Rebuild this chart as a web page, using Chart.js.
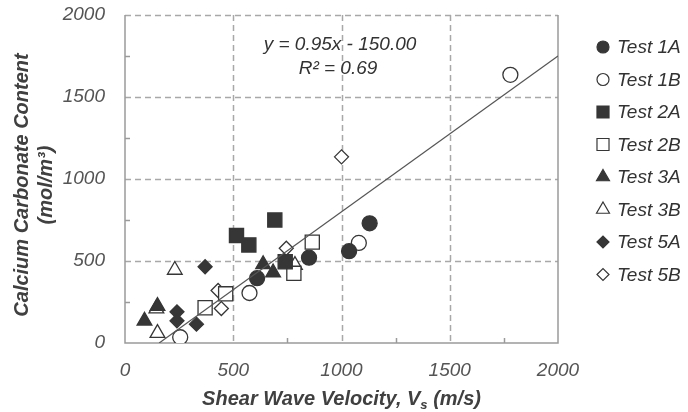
<!DOCTYPE html>
<html>
<head>
<meta charset="utf-8">
<script src="https://cdn.jsdelivr.net/npm/chart.js"></script>
<style>
  body { margin: 0; background: #fff; }
</style>
</head>
<body>
<canvas id="chart" width="688" height="412"></canvas>
<script>
// valores: Vs (m/s) y contenido de CaCO3 (mol/m3)
const seriesNames = ["Test 1A", "Test 1B", "Test 2A", "Test 2B", "Test 3A", "Test 3B", "Test 5A", "Test 5B"];

const vs1A = [610, 850, 1035, 1130];
const caco3_1A = [395, 520, 560, 730];
const vs1B = [255, 575, 1080, 1780];
const caco3_1B = [35, 305, 610, 1635];
const vs2A = [515, 572, 692, 740];
const caco3_2A = [655, 598, 750, 495];
const vs2B = [370, 465, 780, 865];
const caco3_2B = [215, 300, 425, 615];
const vs3A = [90, 150, 638, 684];
const caco3_3A = [135, 225, 480, 430];
const vs3B = [145, 150, 230, 785];
const caco3_3B = [210, 60, 445, 475];
const vs5A = [240, 240, 330, 370];
const caco3_5A = [190, 135, 115, 465];
const vs5B = [430, 445, 745, 1000];
const caco3_5B = [320, 210, 578, 1135];

// ajuste lineal mostrado en el grafico
const trendSlope = 0.95;
const trendIntercept = -150.00;
const trendR2 = 0.69;

const xTicks = [0, 500, 1000, 1500, 2000];
const yTicks = [0, 500, 1000, 1500, 2000];

const FONT = "'Liberation Sans', Arial, sans-serif";
const dark = "#363636";

const styles = [
  { shape: "circle", filled: true, r: 7.5 },
  { shape: "circle", filled: false, r: 7.5 },
  { shape: "rect", filled: true, r: 10 },
  { shape: "rect", filled: false, r: 10 },
  { shape: "triangle", filled: true, r: 8.5 },
  { shape: "triangle", filled: false, r: 8.5 },
  { shape: "rectRot", filled: true, r: 7 },
  { shape: "rectRot", filled: false, r: 7 }
];

const xs = [vs1A, vs1B, vs2A, vs2B, vs3A, vs3B, vs5A, vs5B];
const ys = [caco3_1A, caco3_1B, caco3_2A, caco3_2B, caco3_3A, caco3_3B, caco3_5A, caco3_5B];

function toPoints(x, y) {
  return x.map((v, i) => ({ x: v, y: y[i] }));
}

const scatterSets = seriesNames.map((name, i) => ({
  type: "scatter",
  label: name,
  data: toPoints(xs[i], ys[i]),
  pointStyle: styles[i].shape,
  pointRadius: styles[i].r,
  pointHoverRadius: styles[i].r,
  pointBackgroundColor: styles[i].filled ? dark : "#fff",
  pointBorderColor: dark,
  pointBorderWidth: 1.3,
  order: 1
}));

const trendStart = -trendIntercept / trendSlope;
const trendSet = {
  type: "line",
  label: "trend",
  data: [
    { x: trendStart, y: 0 },
    { x: 2000, y: trendSlope * 2000 + trendIntercept }
  ],
  borderColor: "#555",
  borderWidth: 1.2,
  pointRadius: 0,
  fill: false,
  order: 0
};

const framePlugin = {
  id: "frame",
  beforeDatasetsDraw(chart) {
    const { ctx, chartArea: a, scales: { x, y } } = chart;
    ctx.save();
    // lineas de cuadricula discontinuas
    ctx.strokeStyle = "#a8a8a8";
    ctx.lineWidth = 1.5;
    ctx.setLineDash([6, 4]);
    [500, 1000, 1500, 2000].forEach(v => {
      const py = Math.round(y.getPixelForValue(v)) + 0.5;
      ctx.beginPath();
      ctx.moveTo(a.left, py);
      ctx.lineTo(a.right, py);
      ctx.stroke();
    });
    [500, 1000, 1500].forEach(v => {
      const px = Math.round(x.getPixelForValue(v)) + 0.5;
      ctx.beginPath();
      ctx.moveTo(px, a.top);
      ctx.lineTo(px, a.bottom);
      ctx.stroke();
    });
    ctx.setLineDash([]);
    // ejes
    ctx.strokeStyle = "#9a9a9a";
    ctx.beginPath();
    ctx.moveTo(a.left, a.top);
    ctx.lineTo(a.left, a.bottom);
    ctx.lineTo(a.right, a.bottom);
    ctx.lineTo(a.right, a.top);
    ctx.stroke();
    // marcas menores
    [250, 750, 1250, 1750].forEach(v => {
      const py = Math.round(y.getPixelForValue(v)) + 0.5;
      ctx.beginPath();
      ctx.moveTo(a.left, py);
      ctx.lineTo(a.left + 5, py);
      ctx.stroke();
      const px = Math.round(x.getPixelForValue(v)) + 0.5;
      ctx.beginPath();
      ctx.moveTo(px, a.bottom);
      ctx.lineTo(px, a.bottom - 5);
      ctx.stroke();
    });
    ctx.restore();
  },
  afterDraw(chart) {
    const { ctx, chartArea: a } = chart;
    ctx.save();

    // ecuacion
    ctx.fillStyle = "#333";
    ctx.font = "italic 19px " + FONT;
    ctx.textAlign = "center";
    ctx.textBaseline = "middle";
    ctx.fillText("y = " + trendSlope.toFixed(2) + "x - " + Math.abs(trendIntercept).toFixed(2), 340, 45);
    ctx.fillText("R\u00b2 = " + trendR2.toFixed(2), 338, 69);

    // leyenda
    seriesNames.forEach((name, i) => {
      const ly = 47 + i * 32.5;
      const s = styles[i];
      ctx.fillStyle = s.filled ? dark : "#fff";
      ctx.strokeStyle = dark;
      ctx.lineWidth = 1.2;
      const lr = s.shape === "rect" ? 8.5 : s.shape === "triangle" ? 7.5 : 6;
      Chart.helpers.drawPoint(ctx, { pointStyle: s.shape, radius: lr, borderWidth: 1.2 }, 603, ly);
      ctx.fillStyle = "#333";
      ctx.font = "italic 19px " + FONT;
      ctx.textAlign = "left";
      ctx.textBaseline = "middle";
      ctx.fillText(name, 617, ly + 1);
    });

    // titulos de ejes
    ctx.fillStyle = "#404040";
    ctx.font = "italic bold 20px " + FONT;
    ctx.textBaseline = "middle";
    ctx.save();
    ctx.translate(22, 185);
    ctx.rotate(-Math.PI / 2);
    ctx.textAlign = "center";
    ctx.fillText("Calcium Carbonate Content", 0, 0);
    ctx.fillText("(mol/m\u00b3)", 0, 24);
    ctx.restore();

    const t1 = "Shear Wave Velocity, V";
    const t2 = "s";
    const t3 = " (m/s)";
    ctx.font = "italic bold 20px " + FONT;
    const w1 = ctx.measureText(t1).width;
    const w3 = ctx.measureText(t3).width;
    ctx.font = "italic bold 13px " + FONT;
    const w2 = ctx.measureText(t2).width;
    let tx = (a.left + a.right) / 2 - (w1 + w2 + w3) / 2;
    ctx.textAlign = "left";
    ctx.textBaseline = "alphabetic";
    ctx.font = "italic bold 20px " + FONT;
    ctx.fillText(t1, tx, 405);
    ctx.font = "italic bold 13px " + FONT;
    ctx.fillText(t2, tx + w1, 409);
    ctx.font = "italic bold 20px " + FONT;
    ctx.fillText(t3, tx + w1 + w2, 405);

    ctx.restore();
  }
};

new Chart(document.getElementById("chart"), {
  data: {
    datasets: [trendSet, ...scatterSets]
  },
  options: {
    responsive: false,
    animation: false,
    layout: {
      padding: { left: 0, right: 130, top: 15, bottom: 0 }
    },
    plugins: {
      legend: { display: false },
      tooltip: { enabled: false }
    },
    scales: {
      x: {
        type: "linear",
        min: xTicks[0],
        max: xTicks[xTicks.length - 1],
        afterBuildTicks: s => { s.ticks = xTicks.map(v => ({ value: v })); },
        afterFit: s => { s.height = 69; s.paddingLeft = 0; s.paddingRight = 0; },
        grid: { display: false },
        border: { display: false },
        ticks: {
          color: "#555",
          padding: 8,
          callback: v => String(v),
          font: { family: FONT, size: 19, style: "italic" }
        }
      },
      y: {
        type: "linear",
        min: yTicks[0],
        max: yTicks[yTicks.length - 1],
        afterBuildTicks: s => { s.ticks = yTicks.map(v => ({ value: v })); },
        afterFit: s => { s.width = 125; s.paddingTop = 0; s.paddingBottom = 0; },
        grid: { display: false },
        border: { display: false },
        ticks: {
          color: "#555",
          padding: 12,
          callback: v => String(v),
          font: { family: FONT, size: 19, style: "italic" }
        }
      }
    }
  },
  plugins: [framePlugin]
});
</script>
</body>
</html>
